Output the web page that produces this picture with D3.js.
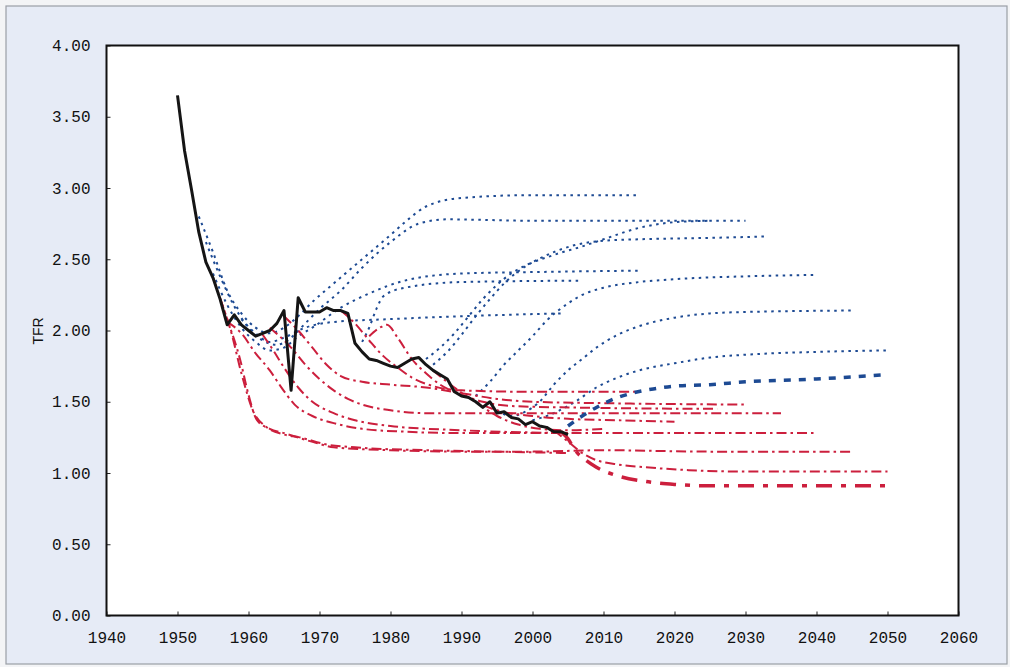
<!DOCTYPE html>
<html><head><meta charset="utf-8">
<script src="https://cdn.jsdelivr.net/npm/d3@7"></script>
<style>
html,body{margin:0;padding:0;background:#f3f4f6;}
svg{display:block;}
</style></head>
<body>
<svg id="chart" width="1010" height="667"></svg>
<script>
// ---------- data ----------
const xTicks = [1940,1950,1960,1970,1980,1990,2000,2010,2020,2030,2040,2050,2060];
const yTicks = [0,0.5,1,1.5,2,2.5,3,3.5,4];
const yTickLabels = ["0.00","0.50","1.00","1.50","2.00","2.50","3.00","3.50","4.00"];
const yTitle = "TFR";

// actual TFR (black line)
const actualYears = [1950,1951,1952,1953,1954,1955,1956,1957,1958,1959,1960,1961,1962,1963,1964,1965,1966,1967,1968,1969,1970,1971,1972,1973,1974,1975,1976,1977,1978,1979,1980,1981,1982,1983,1984,1985,1986,1987,1988,1989,1990,1991,1992,1993,1994,1995,1996,1997,1998,1999,2000,2001,2002,2003,2004,2005];
const actualTFR = [3.65,3.26,2.98,2.69,2.48,2.37,2.22,2.04,2.11,2.04,2.00,1.96,1.98,2.00,2.05,2.14,1.58,2.23,2.13,2.13,2.13,2.16,2.14,2.14,2.12,1.91,1.85,1.80,1.79,1.77,1.75,1.74,1.77,1.80,1.81,1.76,1.72,1.69,1.66,1.57,1.54,1.53,1.50,1.46,1.50,1.42,1.43,1.39,1.38,1.34,1.36,1.33,1.32,1.29,1.29,1.27];

// projections assuming recovery (blue dotted) : [year, TFR]
const blue1 = [[1953,2.80],[1955,2.55],[1957,2.28],[1959,2.12],[1961,2.02],[1963,1.98],[1965,2.02],[1967,2.10],[1969,2.20],[1972,2.33],[1976,2.50],[1980,2.67],[1982.5,2.78],[1985,2.87],[1990,2.93],[2000,2.95],[2015,2.95]];
const blue2 = [[1954,2.62],[1956,2.38],[1958,2.17],[1960,2.02],[1962,1.93],[1964,1.90],[1966,1.95],[1968,2.05],[1970,2.15],[1973,2.28],[1976,2.44],[1980,2.62],[1984,2.75],[1988,2.78],[2000,2.77],[2030,2.77]];
const blue3 = [[1955,2.40],[1957,2.18],[1959,2.02],[1961,1.92],[1963,1.86],[1965,1.88],[1967,1.96],[1969,2.02],[1973,2.16],[1977,2.26],[1982,2.35],[1990,2.40],[2000,2.41],[2015,2.42]];
const blue4 = [[1959,2.08],[1961,1.98],[1963,1.92],[1965,1.95],[1968,2.02],[1972,2.06],[1980,2.08],[1990,2.10],[2004,2.12]];
const blue5 = [[1976,1.92],[1977,2.02],[1978,2.15],[1979,2.24],[1982,2.30],[1990,2.34],[2007,2.35]];
const blue6 = [[1985,1.80],[1987,1.88],[1989,1.98],[1991,2.10],[1993,2.22],[1995,2.32],[1997,2.40],[2000,2.48],[2003,2.55],[2006,2.60],[2010,2.63],[2015,2.64],[2025,2.65],[2033,2.66]];
const blue7 = [[1986,1.76],[1988,1.85],[1990,1.97],[1992,2.10],[1994,2.22],[1996,2.33],[1999,2.45],[2003,2.53],[2007,2.59],[2010,2.64],[2015,2.72],[2020,2.76],[2025,2.77]];
const blue8 = [[1992,1.54],[1994,1.64],[1996,1.76],[1998,1.86],[2000,1.96],[2002,2.07],[2005,2.19],[2007,2.25],[2010,2.30],[2015,2.34],[2020,2.36],[2030,2.38],[2040,2.39]];
const blue9 = [[1995,1.44],[1997,1.40],[1999,1.43],[2001,1.50],[2003,1.62],[2005,1.72],[2007,1.80],[2009,1.88],[2012,1.97],[2015,2.03],[2020,2.09],[2025,2.12],[2030,2.13],[2045,2.14]];
const blue10 = [[2000,1.37],[2003,1.42],[2006,1.50],[2009,1.60],[2012,1.67],[2015,1.72],[2020,1.77],[2025,1.81],[2030,1.83],[2040,1.85],[2050,1.86]];
const blueBold = [[2005,1.33],[2007,1.40],[2009,1.46],[2011,1.51],[2014,1.56],[2017,1.59],[2020,1.61],[2025,1.62],[2030,1.64],[2040,1.66],[2050,1.69]];

// projections assuming decline (red dash-dot)
const red1 = [[1955,2.37],[1957,2.08],[1958.8,1.80],[1960,1.55],[1961.2,1.37],[1963,1.31],[1965,1.28],[1969.6,1.21],[1972,1.18],[1980,1.16],[1990,1.15],[2000,1.15],[2010,1.16],[2025,1.15],[2045,1.15]];
const red2 = [[1956,2.22],[1957.5,2.00],[1959,1.70],[1960.6,1.44],[1962.6,1.32],[1965,1.27],[1967.2,1.25],[1971,1.20],[1975,1.18],[1985,1.16],[1995,1.15],[2005,1.14]];
const red3 = [[1957,2.06],[1959,1.98],[1961,1.84],[1963,1.72],[1964.5,1.61],[1966.5,1.48],[1969,1.40],[1972,1.35],[1976,1.31],[1982,1.29],[1990,1.28],[2000,1.28],[2040,1.28]];
const red4 = [[1962,1.97],[1963.5,1.86],[1965,1.74],[1967,1.60],[1969,1.50],[1972,1.42],[1975,1.37],[1980,1.33],[1990,1.30],[2005,1.28]];
const red5 = [[1963,2.02],[1966,1.88],[1968,1.76],[1970,1.66],[1972,1.58],[1974,1.52],[1976,1.48],[1980,1.44],[1985,1.42],[1995,1.42],[2035,1.42]];
const red6 = [[1965,2.10],[1967,2.00],[1969,1.88],[1971,1.76],[1973,1.68],[1976,1.64],[1980,1.62],[1985,1.60],[1990,1.56],[1995,1.52],[2000,1.50],[2010,1.49],[2030,1.48]];
const red7 = [[1973,2.14],[1975,2.05],[1977,1.93],[1979,1.82],[1981,1.74],[1983,1.67],[1986,1.61],[1990,1.58],[2000,1.57],[2015,1.57]];
const red8 = [[1977,1.96],[1978.5,2.02],[1979.5,2.04],[1981,1.95],[1983,1.80],[1985,1.70],[1987,1.62],[1990,1.55],[1993,1.50],[1997,1.47],[2005,1.46],[2026,1.45]];
const red9 = [[1986,1.72],[1989,1.60],[1992,1.50],[1995,1.44],[2000,1.40],[2005,1.38],[2012,1.37],[2020,1.36]];
const red10 = [[1992,1.50],[1995,1.40],[1998,1.34],[2001,1.31],[2005,1.30],[2010,1.31]];
const red11 = [[2003,1.30],[2005,1.22],[2007,1.14],[2009,1.09],[2012,1.06],[2016,1.04],[2022,1.02],[2030,1.01],[2050,1.01]];
const redBold = [[2004,1.29],[2005,1.24],[2006,1.16],[2007.5,1.09],[2009,1.04],[2012,0.98],[2016,0.94],[2020,0.92],[2025,0.91],[2050,0.91]];

const blueSeries = [blue1,blue2,blue3,blue4,blue5,blue6,blue7,blue8,blue9,blue10];
const redSeries = [red1,red2,red3,red4,red5,red6,red7,red8,red9,red10,red11];

// ---------- drawing ----------
const svg = d3.select("#chart");
const plot = {left:106.5, right:958.5, top:45.5, bottom:615.5};

// paper background and frame
svg.append("rect").attr("x",6).attr("y",6).attr("width",1001).attr("height",658)
  .attr("fill","#e6ebf6").attr("stroke","#9a9ea6").attr("stroke-width",1.2);

const x = d3.scaleLinear().domain([1940,2060]).range([plot.left, plot.right]);
const y = d3.scaleLinear().domain([0,4]).range([plot.bottom, plot.top]);

svg.append("rect").attr("x",plot.left).attr("y",plot.top)
  .attr("width",plot.right-plot.left).attr("height",plot.bottom-plot.top)
  .attr("fill","#ffffff");

const BLUE = "#1d4a93", RED = "#cc1f3d";
const lineGen = d3.line().x(d=>x(d[0])).y(d=>y(d[1])).curve(d3.curveMonotoneX);

const gLines = svg.append("g");
blueSeries.forEach(s=>{
  gLines.append("path").datum(s).attr("d",lineGen).attr("fill","none")
    .attr("stroke",BLUE).attr("stroke-width",2).attr("stroke-dasharray","2.5,4.5");
});
redSeries.forEach(s=>{
  gLines.append("path").datum(s).attr("d",lineGen).attr("fill","none")
    .attr("stroke",RED).attr("stroke-width",2).attr("stroke-dasharray","10,4,2.5,4");
});
gLines.append("path").datum(blueBold).attr("d",lineGen).attr("fill","none")
  .attr("stroke",BLUE).attr("stroke-width",3.5).attr("stroke-dasharray","7,8");
gLines.append("path").datum(redBold).attr("d",lineGen).attr("fill","none")
  .attr("stroke",RED).attr("stroke-width",3.5).attr("stroke-dasharray","16,9,5,9");

// actual line
const actual = actualYears.map((yr,i)=>[yr, actualTFR[i]]);
gLines.append("path").datum(actual)
  .attr("d", d3.line().x(d=>x(d[0])).y(d=>y(d[1])))
  .attr("fill","none").attr("stroke","#151515").attr("stroke-width",3)
  .attr("stroke-linejoin","round");

// axes (inward ticks)
const fontFam = "'Liberation Mono','DejaVu Sans Mono',monospace";
const xAxis = d3.axisBottom(x).tickValues(xTicks).tickSize(-4).tickPadding(16).tickFormat(d3.format("d"));
const gx = svg.append("g").attr("transform",`translate(0,${plot.bottom})`).call(xAxis);
gx.select(".domain").remove();
gx.selectAll("line").attr("stroke","#222").attr("stroke-width",1);
gx.selectAll("text").attr("font-family",fontFam).attr("font-size",16).attr("fill","#111");

const yAxis = d3.axisLeft(y).tickValues(yTicks).tickSize(-4).tickPadding(16)
  .tickFormat((d,i)=>yTickLabels[i]);
const gy = svg.append("g").attr("transform",`translate(${plot.left},0)`).call(yAxis);
gy.select(".domain").remove();
gy.selectAll("line").attr("stroke","#222").attr("stroke-width",1);
gy.selectAll("text").attr("font-family",fontFam).attr("font-size",16).attr("fill","#111");

// plot border
svg.append("rect").attr("x",plot.left).attr("y",plot.top)
  .attr("width",plot.right-plot.left).attr("height",plot.bottom-plot.top)
  .attr("fill","none").attr("stroke","#111").attr("stroke-width",2);

// y title
svg.append("text").attr("transform","translate(43,331) rotate(-90)")
  .attr("text-anchor","middle").attr("font-family","'Liberation Sans',Arial,sans-serif")
  .attr("font-size",14).attr("fill","#111").text(yTitle);
</script>
</body></html>
